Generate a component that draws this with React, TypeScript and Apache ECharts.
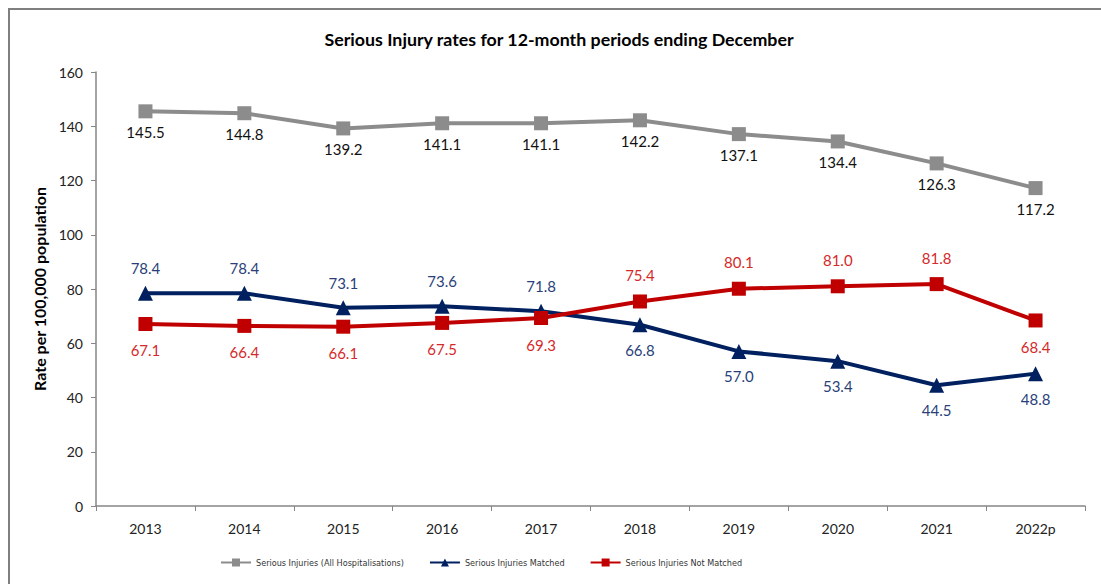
import React, { useEffect, useRef } from "react";
import * as echarts from "echarts";

const years = ["2013", "2014", "2015", "2016", "2017", "2018", "2019", "2020", "2021", "2022p"];
const allHosp = [145.5, 144.8, 139.2, 141.1, 141.1, 142.2, 137.1, 134.4, 126.3, 117.2];
const matched = [78.4, 78.4, 73.1, 73.6, 71.8, 66.8, 57.0, 53.4, 44.5, 48.8];
const notMatched = [67.1, 66.4, 66.1, 67.5, 69.3, 75.4, 80.1, 81.0, 81.8, 68.4];

const matchedLabelPos = ["top", "top", "top", "top", "top", "bottom", "bottom", "bottom", "bottom", "bottom"];
const notMatchedLabelPos = ["bottom", "bottom", "bottom", "bottom", "bottom", "top", "top", "top", "top", "bottom"];

const FONT = "Lato, Carlito, 'Open Sans', sans-serif";
const NARROW = "'Liberation Sans Narrow', 'DejaVu Sans Condensed', sans-serif";

export default function App() {
  const ref = useRef<HTMLDivElement>(null);
  useEffect(() => {
    const chart = echarts.init(ref.current!, undefined, { renderer: "svg" });
    const lbl = (color: string, distance: number) => ({
      show: true,
      color,
      fontSize: 15,
      fontFamily: FONT,
      distance,
      formatter: (p: any) => Number(p.value).toFixed(1),
    });
    chart.setOption({
      animation: false,
      textStyle: { fontFamily: FONT },
      title: {
        text: "Serious Injury rates for 12-month periods ending December",
        left: 554,
        textAlign: "center",
        top: 25,
        textStyle: { fontSize: 17.8, fontWeight: "bold", color: "#000", fontFamily: FONT },
      },
      graphic: [
        {
          type: "rect",
          shape: { x: 9, y: 9, width: 1200, height: 800 },
          style: { fill: "none", stroke: "#7f7f7f", lineWidth: 2 },
          silent: true,
        },
      ],
      legend: {
        bottom: 12,
        left: 215,
        itemWidth: 30,
        itemHeight: 10,
        itemGap: 25,
        textStyle: { fontSize: 9, color: "#333", fontFamily: NARROW },
        data: [
          "Serious Injuries (All Hospitalisations)",
          "Serious Injuries Matched",
          "Serious Injuries Not Matched",
        ],
      },
      grid: { left: 96, right: 16, top: 72, bottom: 78 },
      xAxis: {
        type: "category",
        data: years,
        boundaryGap: true,
        axisLine: { lineStyle: { color: "#868686", width: 1.5 } },
        axisTick: { show: true, length: 5, lineStyle: { color: "#868686" } },
        axisLabel: { color: "#222", fontSize: 14, margin: 15, fontFamily: FONT },
      },
      yAxis: {
        type: "value",
        min: 0,
        max: 160,
        interval: 20,
        name: "Rate per 100,000 population",
        nameLocation: "middle",
        nameGap: 49,
        nameTextStyle: { fontSize: 16, fontWeight: "bold", color: "#000", fontFamily: FONT },
        axisLine: { show: true, lineStyle: { color: "#868686", width: 1.5 } },
        axisTick: { show: true, length: 5, lineStyle: { color: "#868686" } },
        axisLabel: { color: "#222", fontSize: 14, margin: 13, fontFamily: FONT },
        splitLine: { show: false },
      },
      series: [
        {
          name: "Serious Injuries (All Hospitalisations)",
          type: "line",
          data: allHosp,
          symbol: "rect",
          symbolSize: 14,
          color: "#8c8c8c",
          lineStyle: { width: 4, color: "#8c8c8c" },
          itemStyle: { color: "#8c8c8c" },
          label: { ...lbl("#111", 6), position: "bottom" },
        },
        {
          name: "Serious Injuries Matched",
          type: "line",
          data: matched.map((v, i) => ({ value: v, label: { position: matchedLabelPos[i] } })),
          symbol: "triangle",
          symbolSize: 15,
          color: "#002060",
          lineStyle: { width: 4, color: "#002060" },
          itemStyle: { color: "#002060" },
          label: lbl("#2a3f7a", 10),
        },
        {
          name: "Serious Injuries Not Matched",
          type: "line",
          data: notMatched.map((v, i) => ({ value: v, label: { position: notMatchedLabelPos[i] } })),
          symbol: "rect",
          symbolSize: 14,
          color: "#c00000",
          lineStyle: { width: 4, color: "#c00000" },
          itemStyle: { color: "#c00000" },
          label: lbl("#d42a2a", 12),
        },
      ],
    });
    return () => chart.dispose();
  }, []);
  return (
    <div
      ref={ref}
      style={{ position: "absolute", left: 0, top: 0, width: 1101, height: 584, background: "#fff" }}
    />
  );
}
